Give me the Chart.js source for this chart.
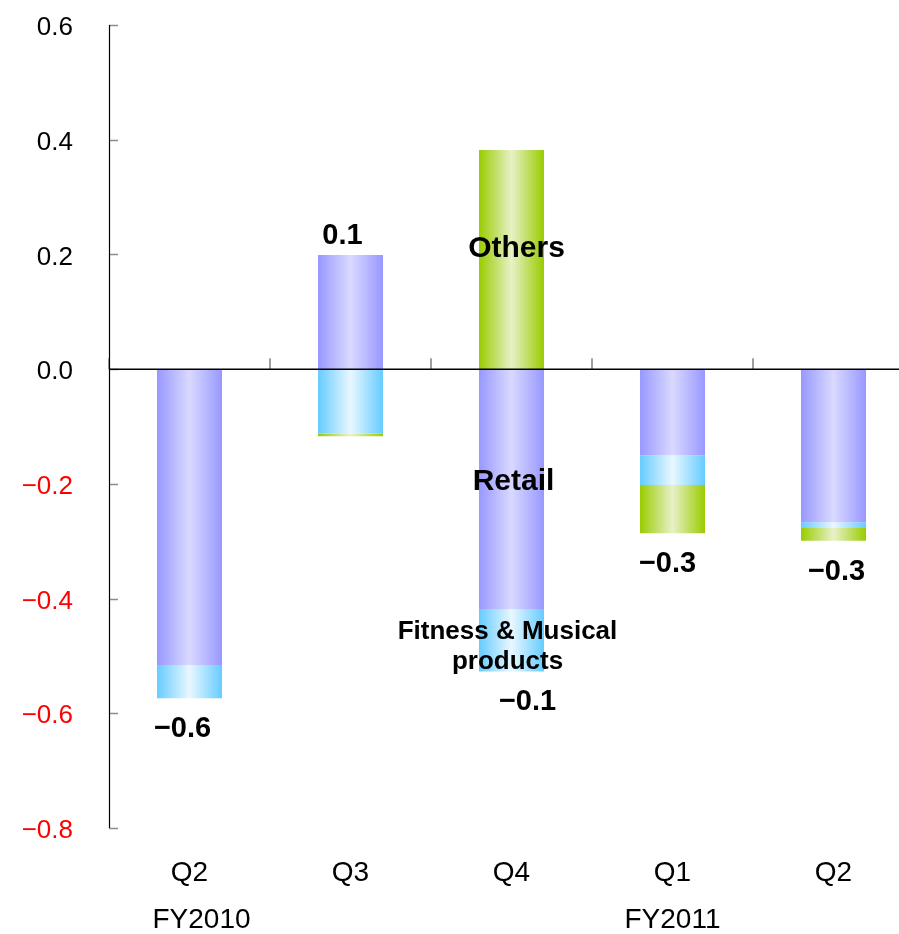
<!DOCTYPE html>
<html>
<head>
<meta charset="utf-8">
<script src="https://cdn.jsdelivr.net/npm/chart.js@4/dist/chart.umd.min.js"></script>
<style>
  html, body { margin: 0; padding: 0; background: #fff; overflow: hidden; }
  canvas { display: block; }
</style>
</head>
<body>
<canvas id="c" width="914" height="934"></canvas>
<script>
// Quarterly change by segment (billions)
const quarters = ['Q2', 'Q3', 'Q4', 'Q1', 'Q2'];
const fiscalYears = [{ text: 'FY2010', index: 0, shift: 12 }, { text: 'FY2011', index: 3, shift: 0 }];
const retail = [-0.516, 0.199, -0.418, -0.150, -0.267];
const fitnessMusical = [-0.058, -0.112, -0.109, -0.052, -0.010];
const others = [0, -0.005, 0.382, -0.084, -0.022];
const yTicks = [0.6, 0.4, 0.2, 0.0, -0.2, -0.4, -0.6, -0.8];

const FONT = '"Liberation Sans", Arial, Helvetica, sans-serif';
const BAR_PCT = 0.404;
const MINUS = '\u2212';

function fmt(v) {
  const s = Math.abs(v).toFixed(1);
  return (v < -1e-9 && Math.abs(v) >= 0.05 ? MINUS : '') + s;
}

// horizontal "cylinder" shading: darker edges, light centre
function shade(edge, mid) {
  return function (ctx) {
    const chart = ctx.chart;
    if (!chart.chartArea || ctx.dataIndex === undefined) return edge;
    const xs = chart.scales.x;
    const cx = xs.getPixelForValue(ctx.dataIndex);
    const w = xs.width / quarters.length * BAR_PCT;
    const g = chart.ctx.createLinearGradient(cx - w / 2, 0, cx + w / 2, 0);
    g.addColorStop(0, edge);
    g.addColorStop(0.5, mid);
    g.addColorStop(1, edge);
    return g;
  };
}

// axis line decorations drawn over the bars
const axisMarks = {
  id: 'axisMarks',
  afterDatasetsDraw(chart) {
    const { ctx, chartArea, scales: { x, y } } = chart;
    ctx.save();
    // inner ticks on the value axis
    ctx.strokeStyle = '#8c8c8c';
    ctx.lineWidth = 1.5;
    yTicks.forEach(v => {
      const py = Math.round(y.getPixelForValue(v)) + 0.5;
      ctx.beginPath();
      ctx.moveTo(chartArea.left, py);
      ctx.lineTo(chartArea.left + 9, py);
      ctx.stroke();
    });
    // category separators above the zero line
    const y0 = y.getPixelForValue(0);
    ctx.strokeStyle = '#a0a0a0';
    ctx.lineWidth = 2;
    for (let i = 0; i <= quarters.length; i++) {
      const px = x.getPixelForValue(i) - x.width / quarters.length / 2;
      ctx.beginPath();
      ctx.moveTo(px, y0 - 11);
      ctx.lineTo(px, y0);
      ctx.stroke();
    }
    // zero line
    ctx.strokeStyle = '#000';
    ctx.lineWidth = 1.5;
    ctx.beginPath();
    ctx.moveTo(chartArea.left, y0);
    ctx.lineTo(chartArea.right, y0);
    ctx.stroke();
    // value axis line
    ctx.lineWidth = 1.2;
    ctx.beginPath();
    ctx.moveTo(chartArea.left + 0.5, chartArea.top);
    ctx.lineTo(chartArea.left + 0.5, chartArea.bottom);
    ctx.stroke();
    ctx.restore();
  }
};

// totals, segment names and fiscal-year captions
const annotations = {
  id: 'annotations',
  afterDraw(chart) {
    const { ctx, chartArea, scales: { x, y } } = chart;
    ctx.save();
    ctx.fillStyle = '#000';
    ctx.textAlign = 'center';
    ctx.textBaseline = 'middle';

    const nudgeX = [-7, -8, 16, -5, 3];
    ctx.font = 'bold 29px ' + FONT;
    quarters.forEach((q, i) => {
      const vals = [retail[i], fitnessMusical[i], others[i]];
      const total = vals.reduce((a, b) => a + b, 0);
      const pos = vals.filter(v => v > 0).reduce((a, b) => a + b, 0);
      const neg = vals.filter(v => v < 0).reduce((a, b) => a + b, 0);
      const cx = x.getPixelForValue(i) + nudgeX[i];
      const py = total >= 0 ? y.getPixelForValue(pos) - 19 : y.getPixelForValue(neg) + 31;
      ctx.fillText(fmt(total), cx, py);
    });

    // segment names on the Q4 bar
    const k = 2;
    const cx = x.getPixelForValue(k);
    ctx.font = 'bold 30px ' + FONT;
    ctx.fillText('Others', cx + 5, y.getPixelForValue(others[k] / 2) - 11);
    ctx.fillText('Retail', cx + 2, y.getPixelForValue(retail[k] / 2) - 7);
    ctx.font = 'bold 26px ' + FONT;
    const fMid = y.getPixelForValue(retail[k] + fitnessMusical[k] / 2);
    ctx.fillText('Fitness & Musical', cx - 4, fMid - 8);
    ctx.fillText('products', cx - 4, fMid + 22);

    // fiscal-year captions under the quarter labels
    ctx.font = '28px ' + FONT;
    fiscalYears.forEach(fy => {
      ctx.fillText(fy.text, x.getPixelForValue(fy.index) + fy.shift, chartArea.bottom + 92);
    });
    ctx.restore();
  }
};

new Chart(document.getElementById('c'), {
  type: 'bar',
  data: {
    labels: quarters,
    datasets: [
      { label: 'Retail', data: retail, backgroundColor: shade('#9898ff', '#d9d9ff') },
      { label: 'Fitness & Musical products', data: fitnessMusical, backgroundColor: shade('#66ccff', '#e9f7ff') },
      { label: 'Others', data: others, backgroundColor: shade('#99cc00', '#e8f1c8') }
    ]
  },
  options: {
    responsive: false,
    animation: false,
    devicePixelRatio: 1,
    layout: { padding: { top: 25, left: 0, right: 0, bottom: 0 } },
    datasets: { bar: { categoryPercentage: 1, barPercentage: BAR_PCT, borderWidth: 0 } },
    plugins: { legend: { display: false }, tooltip: { enabled: false } },
    scales: {
      x: {
        stacked: true,
        grid: { display: false },
        border: { display: false },
        ticks: { color: '#000', font: { family: FONT, size: 28 }, padding: 20, maxRotation: 0 },
        afterFit(scale) { scale.height = 106; }
      },
      y: {
        stacked: true,
        min: -0.8,
        max: 0.6,
        afterBuildTicks(scale) { scale.ticks = yTicks.map(v => ({ value: v })); },
        grid: { display: false, drawTicks: false },
        border: { display: false },
        ticks: {
          padding: 36,
          labelOffset: 3,
          font: { family: FONT, size: 26 },
          color: c => (c.tick && c.tick.value < -1e-9 ? '#ff0000' : '#000'),
          callback: v => (v < -1e-9 ? MINUS : '') + Math.abs(v).toFixed(1)
        },
        afterFit(scale) {
          scale.width = 109;
          // label overhang only, without the horizontal label gap
          scale.paddingTop = 16;
          scale.paddingBottom = 16;
        }
      }
    }
  },
  plugins: [axisMarks, annotations]
});
</script>
</body>
</html>
